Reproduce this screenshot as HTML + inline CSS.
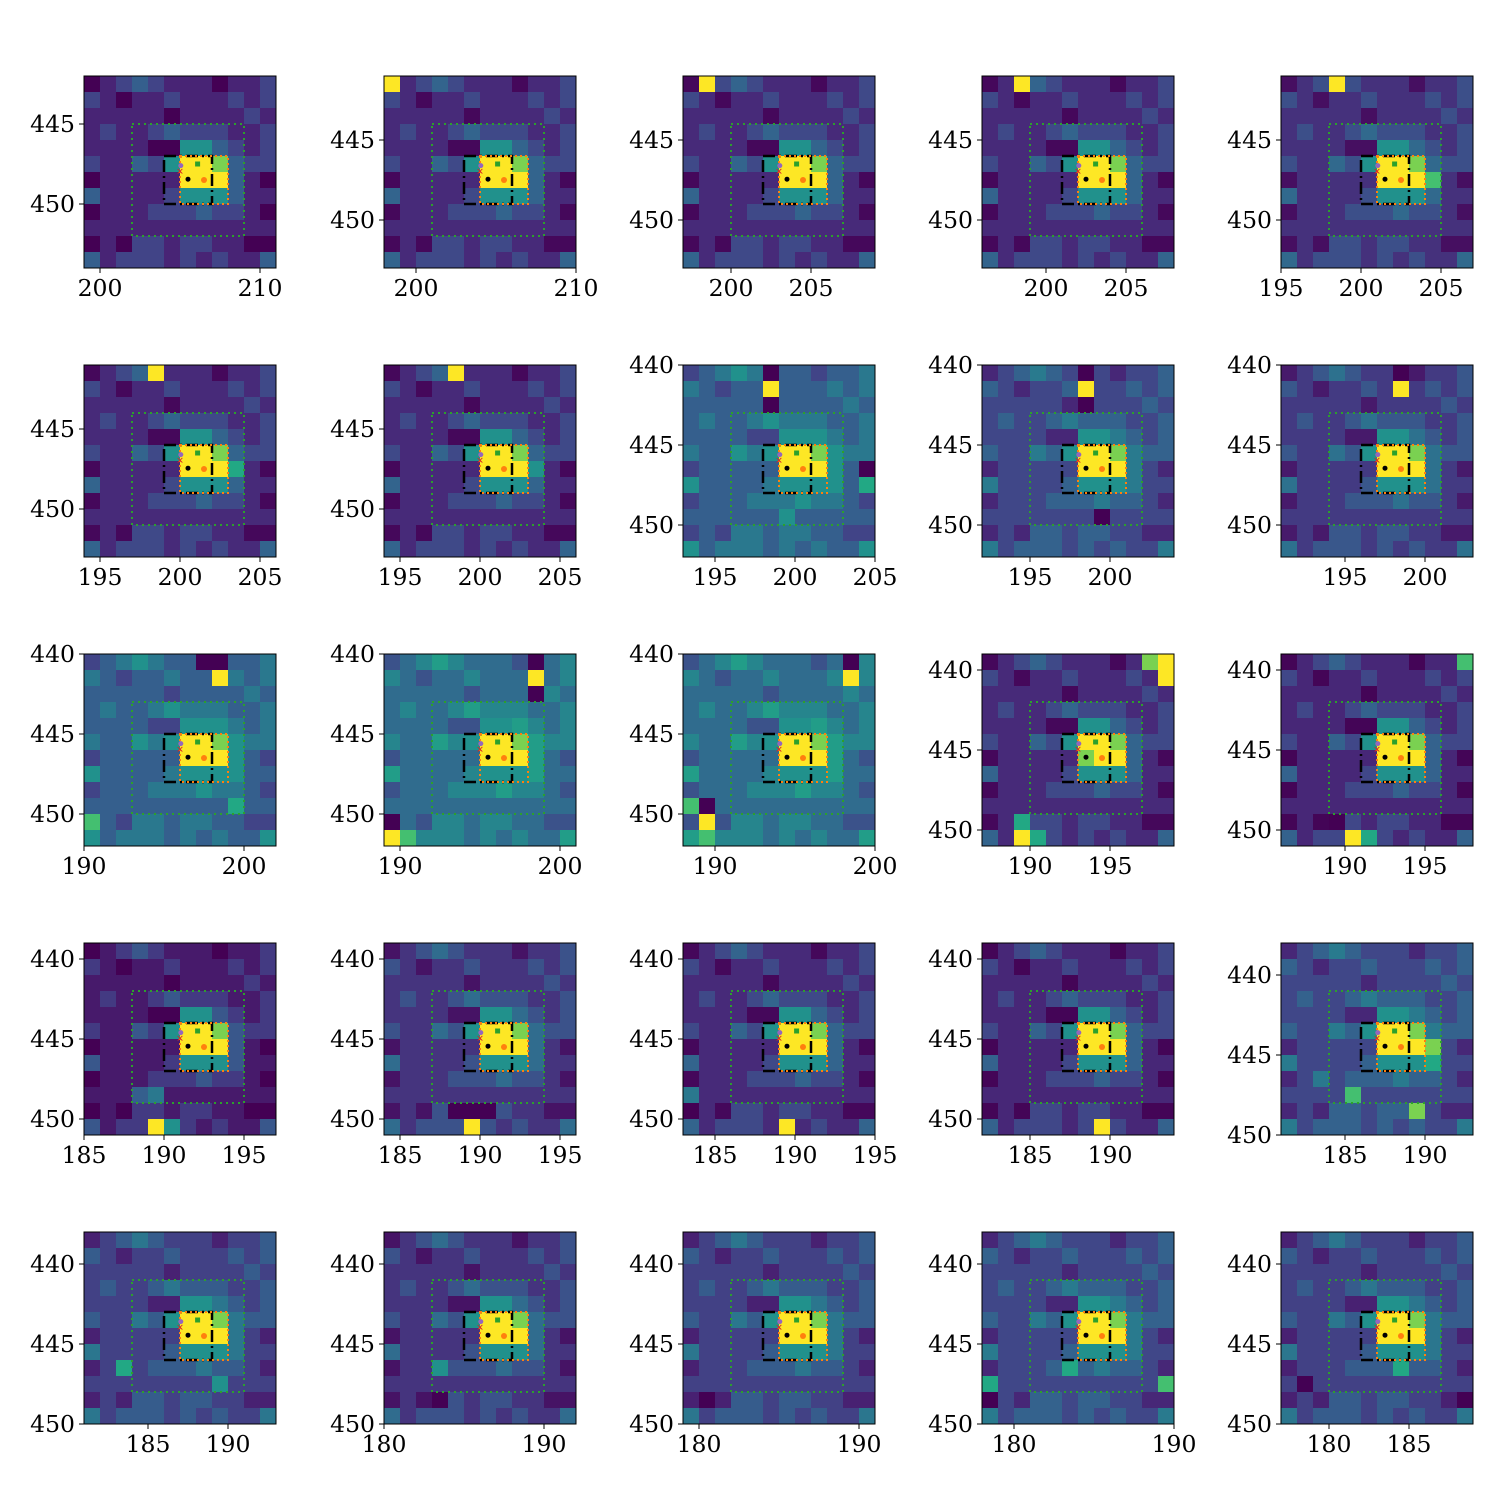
<!DOCTYPE html>
<html><head><meta charset="utf-8">
<style>
html,body{margin:0;padding:0;background:#fff;}
svg text{font-family:"DejaVu Serif","Liberation Serif",serif;font-size:23.5px;fill:#000;}
</style></head>
<body>
<svg id="fig" width="1500" height="1500" viewBox="0 0 1500 1500" xmlns="http://www.w3.org/2000/svg"></svg>
<script>
// shared 12x12 intensity texture (0-9 scale)
const baseTexture = [
 [0,1,2,3,2,1,1,1,0,1,1,2],
 [2,1,0,1,1,2,1,1,1,2,1,2],
 [1,1,1,1,1,0,1,1,1,1,2,1],
 [1,2,1,1,2,3,2,2,2,1,1,2],
 [1,1,1,1,0,0,5,5,3,2,1,2],
 [2,1,1,3,2,5,9,9,8,3,2,2],
 [0,1,1,1,1,1,9,9,9,3,1,0],
 [3,1,1,1,1,2,5,5,5,3,1,1],
 [0,1,1,1,2,2,2,3,2,2,1,0],
 [1,1,1,1,1,1,1,1,1,1,1,1],
 [0,1,0,2,2,1,2,2,1,1,0,0],
 [3,1,2,2,2,1,2,1,2,1,1,3]
];
// per-panel background offset
const bgOffset = [0,0.2,0.2,0.2,0.4, 0.2,0.2,2.0,1.1,0.7, 2.0,2.5,2.5,0.2,0.1, -0.3,0.5,0.2,0.1,1.1, 0.9,0.5,0.9,1.1,0.9];
// per-panel bright cells "row,col,value"
const specials = [
 [],
 ["0,0,9"],
 ["0,1,9"],
 ["0,2,9"],
 ["0,3,9","6,9,7"],
 ["0,4,9","6,9,6"],
 ["0,4,9","6,9,5"],
 ["1,5,9","0,5,0","2,5,0","6,11,0","7,11,6","9,6,5"],
 ["1,6,9","0,6,0","2,6,0","9,7,0"],
 ["1,7,9","0,7,0"],
 ["1,8,9","0,7,0","0,8,0","9,9,6","10,0,7"],
 ["1,9,9","0,9,0","2,9,0","10,0,0","11,0,9","11,1,7"],
 ["1,10,9","0,10,0","9,1,0","10,1,9","11,1,7","9,0,7"],
 ["0,10,8","0,11,9","1,11,9","11,2,9","11,3,6","10,2,6","6,6,8"],
 ["11,4,9","11,5,6","0,11,7","10,3,0"],
 ["11,4,9","11,5,5","9,4,4","9,3,3"],
 ["11,5,9","10,4,0","10,5,0","10,6,0"],
 ["11,6,9","9,0,4","10,0,0"],
 ["11,7,9"],
 ["9,4,7","10,8,8","6,9,8","7,9,6","8,2,4"],
 ["8,2,6","9,8,5"],
 ["8,3,5","10,3,0"],
 ["10,1,0"],
 ["8,5,6","9,0,6","9,11,7","10,0,0"],
 ["9,1,0","8,7,6","10,11,0"]
];
// axis extents: data x at left edge, data y at top edge
const xLeft = [199,198,197,196,195, 194,194,193,192,191, 190,189,188,187,186, 185,184,183,182,181, 181,180,179,178,177];
const yTop  = [442,441,441,441,441, 441,441,440,440,440, 440,440,440,439,439, 439,439,439,439,438, 438,438,438,438,438];
const xTicks = [
 [200,210],[200,210],[200,205],[200,205],[195,200,205],
 [195,200,205],[195,200,205],[195,200,205],[195,200],[195,200],
 [190,200],[190,200],[190,200],[190,195],[190,195],
 [185,190,195],[185,190,195],[185,190,195],[185,190],[185,190],
 [185,190],[180,190],[180,190],[180,190],[180,185]
];
const yTicks = [
 [445,450],[445,450],[445,450],[445,450],[445,450],
 [445,450],[445,450],[440,445,450],[440,445,450],[440,445,450],
 [440,445,450],[440,445,450],[440,445,450],[440,445,450],[440,445,450],
 [440,445,450],[440,445,450],[440,445,450],[440,445,450],[440,445,450],
 [440,445,450],[440,445,450],[440,445,450],[440,445,450],[440,445,450]
];
</script>
<script>
const NS="http://www.w3.org/2000/svg";
const svg=document.getElementById('fig');
const colLefts=[84,384,683,982,1281];
const rowTops=[76,365,654,943,1232];
const CELL=16, N=12;
const vir=["#440154","#482475","#414487","#355f8d","#2a788e","#21918c","#22a884","#44bf70","#7ad151","#fde725"];
function hex2rgb(h){return [1,3,5].map(i=>parseInt(h.substr(i,2),16));}
function color(v){v=Math.max(0,Math.min(9,v));const i=Math.floor(v),f=v-i;
 if(i>=9)return vir[9];const a=hex2rgb(vir[i]),b=hex2rgb(vir[i+1]);
 return "rgb("+a.map((c,k)=>Math.round(c+(b[k]-c)*f)).join(",")+")";}
function el(tag,attrs,parent){const e=document.createElementNS(NS,tag);for(const k in attrs)e.setAttribute(k,attrs[k]);(parent||svg).appendChild(e);return e;}

for(let p=0;p<25;p++){
 const L=colLefts[p%5], T=rowTops[Math.floor(p/5)];
 const g=el('g',{});
 
 
 const mat=baseTexture.map(r=>r.map(v=>v<=3?v+bgOffset[p]:v));
 specials[p].forEach(s=>{const [r,c,v]=s.split(',').map(Number);mat[r][c]=v;});
 const xs=d=>L+(d-xLeft[p])*CELL, ys=d=>T+(d-yTop[p])*CELL;
 for(let r=0;r<N;r++)for(let c=0;c<N;c++){
  const rc=el('rect',{x:L+c*CELL,y:T+r*CELL,width:CELL+0.5,height:CELL+0.5,fill:color(mat[r][c])},g);
  
  
 }
 const gb=el('rect',{x:L+3*CELL,y:T+3*CELL,width:7*CELL,height:7*CELL,fill:'none',stroke:'#2ca02c','stroke-width':2,'stroke-dasharray':'2,4'},g);
 
 const bb=el('rect',{x:L+5*CELL,y:T+5*CELL,width:3*CELL,height:3*CELL,fill:'none',stroke:'#000','stroke-width':2.5,'stroke-dasharray':'12,4,2,4'},g);
 
 const ob=el('rect',{x:L+6*CELL,y:T+5*CELL,width:3*CELL,height:3*CELL,fill:'none',stroke:'#ff7f0e','stroke-width':2,'stroke-dasharray':'2,3'},g);
 
 const m1=el('circle',{cx:L+6.5*CELL,cy:T+6.45*CELL,r:2.5,fill:'#000'},g);
 
 const m2=el('circle',{cx:L+7.5*CELL,cy:T+6.5*CELL,r:3,fill:'#ff7f0e'},g);
 
 const m3=el('rect',{x:L+7.1*CELL-2.5,y:T+5.5*CELL-2.5,width:5,height:5,fill:'#2ca02c'},g);
 
 const m4=el('circle',{cx:L+6.05*CELL,cy:T+5.6*CELL,r:2.5,fill:'#9467bd'},g);
 
 const m5=el('text',{x:L+6.0*CELL,y:T+6.15*CELL,'text-anchor':'middle',style:'font-size:9px;fill:#d62728;font-family:DejaVu Sans,sans-serif'},g);
 m5.textContent='✕';
 
 const fr=el('rect',{x:L,y:T,width:N*CELL,height:N*CELL,fill:'none',stroke:'#000','stroke-width':1},g);
 
 xTicks[p].forEach(v=>{const x=xs(v);
  el('line',{x1:x,y1:T+N*CELL,x2:x,y2:T+N*CELL+5,stroke:'#000','stroke-width':1},g);
  const t=el('text',{x:x,y:T+N*CELL+28,'text-anchor':'middle'},g);t.textContent=v;
  });
 yTicks[p].forEach(v=>{const y=ys(v);
  el('line',{x1:L-5,y1:y,x2:L,y2:y,stroke:'#000','stroke-width':1},g);
  const t=el('text',{x:L-9,y:y+8,'text-anchor':'end'},g);t.textContent=v;
  });
}
</script>
</body></html>
